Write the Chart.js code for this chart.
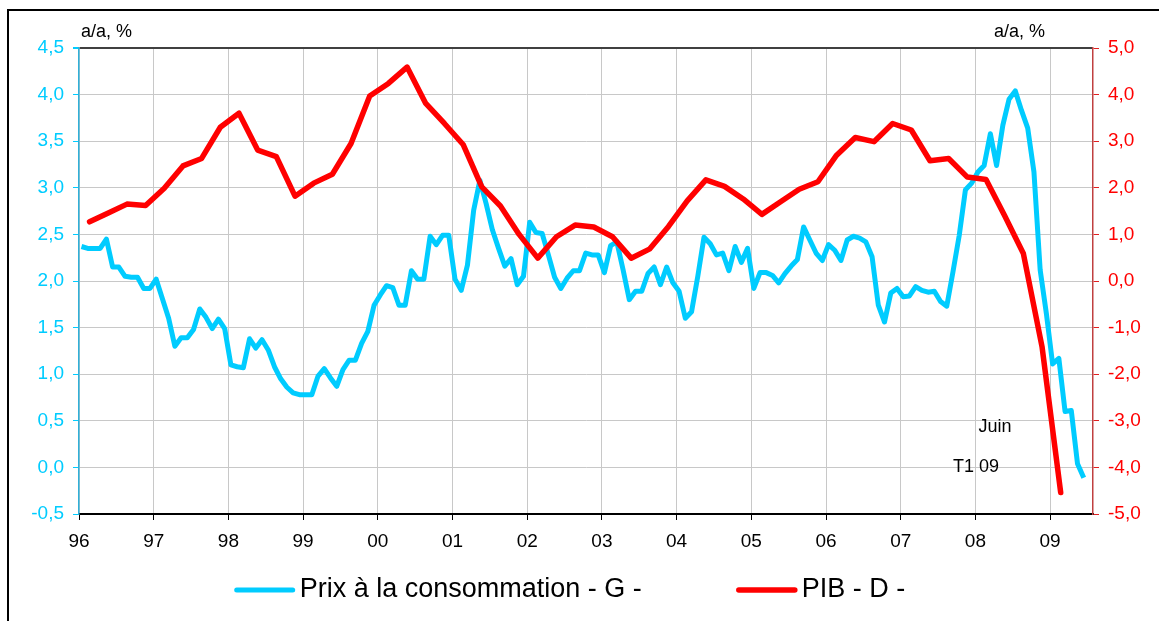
<!DOCTYPE html>
<html>
<head>
<meta charset="utf-8">
<script src="https://cdn.jsdelivr.net/npm/chart.js@4.4.1/dist/chart.umd.min.js"></script>
<style>
html, body { margin: 0; padding: 0; background: #fff; overflow: hidden; }
#wrap { position: relative; width: 1159px; height: 621px; }
#frame { position: absolute; left: 7px; top: 9px; width: 1200px; height: 700px; border: 2px solid #000; }
#chart { position: absolute; left: 0; top: 0; }
</style>
</head>
<body>
<div id="wrap">
  <div id="frame"></div>
  <canvas id="chart" width="1159" height="621"></canvas>
</div>
<script>
var font = "'Liberation Sans', Arial, sans-serif";

// x axis: one tick per year
var firstYear = 1996;
var yearTicks = [1996, 1997, 1998, 1999, 2000, 2001, 2002, 2003, 2004, 2005, 2006, 2007, 2008, 2009];
var yearLabels = ['96', '97', '98', '99', '00', '01', '02', '03', '04', '05', '06', '07', '08', '09'];

// prix a la consommation, a/a %, mensuel jan 96 -> juin 09 (axe gauche)
var cpiLabel = 'Prix à la consommation - G -';
var cpi = [
  2.37, 2.35, 2.35, 2.35, 2.45, 2.15, 2.15, 2.05, 2.04, 2.04, 1.92, 1.92,
  2.02, 1.81, 1.60, 1.30, 1.39, 1.39, 1.48, 1.70, 1.61, 1.49, 1.59, 1.49,
  1.10, 1.08, 1.07, 1.38, 1.28, 1.37, 1.26, 1.08, 0.95, 0.86, 0.80, 0.78,
  0.78, 0.78, 0.98, 1.06, 0.96, 0.87, 1.05, 1.15, 1.15, 1.33, 1.46, 1.74,
  1.85, 1.95, 1.93, 1.74, 1.74, 2.11, 2.02, 2.02, 2.48, 2.39, 2.49, 2.49,
  2.02, 1.90, 2.17, 2.76, 3.08, 2.83, 2.55, 2.35, 2.16, 2.24, 1.96, 2.05,
  2.63, 2.52, 2.51, 2.28, 2.04, 1.92, 2.03, 2.11, 2.11, 2.30, 2.28, 2.28,
  2.09, 2.38, 2.42, 2.12, 1.80, 1.89, 1.89, 2.08, 2.15, 1.96, 2.15, 1.98,
  1.89, 1.60, 1.67, 2.05, 2.47, 2.40, 2.28, 2.30, 2.11, 2.37, 2.20, 2.35,
  1.92, 2.09, 2.09, 2.06, 1.98, 2.08, 2.16, 2.23, 2.58, 2.44, 2.30, 2.22,
  2.39, 2.33, 2.22, 2.44, 2.48, 2.46, 2.42, 2.26, 1.74, 1.56, 1.87, 1.92,
  1.83, 1.84, 1.94, 1.90, 1.88, 1.89, 1.78, 1.73, 2.10, 2.49, 2.98, 3.05,
  3.17, 3.24, 3.58, 3.24, 3.67, 3.95, 4.04, 3.83, 3.64, 3.17, 2.12, 1.65,
  1.11, 1.17, 0.60, 0.61, 0.04, -0.11
];

// PIB, a/a %, trimestriel T1 96 -> T1 09 (axe droit)
var gdpLabel = 'PIB - D -';
var gdp = [
  1.27, 1.46, 1.65, 1.62,
  1.99, 2.47, 2.63, 3.30,
  3.60, 2.81, 2.67, 1.82,
  2.10, 2.29, 2.95, 3.97,
  4.24, 4.59, 3.81, 3.38,
  2.93, 2.02, 1.61, 1.00,
  0.49, 0.95, 1.20, 1.16,
  0.95, 0.49, 0.69, 1.17,
  1.72, 2.17, 2.03, 1.76,
  1.43, 1.70, 1.97, 2.13,
  2.70, 3.08, 2.99, 3.38,
  3.24, 2.58, 2.63, 2.23,
  2.18, 1.40, 0.59, -1.41,
  -4.54
];

// notes in the plot (x in years, y on left axis)
var notes = [
  { text: 'Juin', x: 2008.04, y: 0.43 },
  { text: 'T1 09', x: 2007.70, y: 0.0 }
];
var unitText = 'a/a, %';

// monthly points sit a bit inside their month, quarterly ones mid quarter
var cpiPoints = cpi.map(function (v, i) { return { x: firstYear + (i + 0.4) / 12, y: v }; });
var gdpPoints = gdp.map(function (v, q) { return { x: firstYear + (3 * q + 1.7) / 12, y: v }; });

function comma(v) { return v.toFixed(1).replace('.', ','); }

var textPlugin = {
  id: 'texts',
  afterDraw: function (chart) {
    var ctx = chart.ctx, a = chart.chartArea;
    var xs = chart.scales.x, ys = chart.scales.y;
    ctx.save();
    ctx.fillStyle = '#000';
    ctx.textBaseline = 'middle';
    ctx.font = '18px ' + font;
    ctx.textAlign = 'left';
    ctx.fillText(unitText, a.left + 2, 32);
    ctx.textAlign = 'right';
    ctx.fillText(unitText, a.right - 48, 32);
    ctx.textAlign = 'left';
    notes.forEach(function (n) {
      ctx.fillText(n.text, xs.getPixelForValue(n.x), ys.getPixelForValue(n.y));
    });

    // legend
    ctx.font = '27px ' + font;
    var sets = chart.data.datasets;
    var widths = sets.map(function (d) { return 56 + 7 + ctx.measureText(d.label).width; });
    var total = widths.reduce(function (s, w) { return s + w; }, 0) + 97 * (sets.length - 1);
    var x = 571 - total / 2, y = 590;
    sets.forEach(function (d, i) {
      ctx.strokeStyle = d.borderColor;
      ctx.lineWidth = d.borderWidth;
      ctx.lineCap = 'round';
      ctx.beginPath();
      ctx.moveTo(x, y);
      ctx.lineTo(x + 56, y);
      ctx.stroke();
      ctx.fillText(d.label, x + 63, y);
      x += widths[i] + 97;
    });
    ctx.restore();
  }
};

Chart.defaults.font.family = font;

new Chart(document.getElementById('chart').getContext('2d'), {
  type: 'line',
  data: {
    datasets: [{
      label: cpiLabel,
      data: cpiPoints,
      borderColor: '#00ccff',
      borderWidth: 5,
      pointRadius: 0,
      borderJoinStyle: 'round',
      yAxisID: 'y',
      order: 1
    }, {
      label: gdpLabel,
      data: gdpPoints,
      borderColor: '#ff0000',
      borderWidth: 5.5,
      pointRadius: 0,
      borderJoinStyle: 'round',
      borderCapStyle: 'round',
      yAxisID: 'y1',
      order: 0
    }]
  },
  options: {
    responsive: false,
    animation: false,
    layout: { padding: { top: 48, bottom: 57, left: 0, right: 0 } },
    plugins: { legend: { display: false }, tooltip: { enabled: false } },
    scales: {
      x: {
        type: 'linear',
        min: 1996,
        max: 2009.574,
        afterBuildTicks: function (s) { s.ticks = yearTicks.map(function (v) { return { value: v }; }); },
        afterFit: function (s) { s.height = 50; },
        ticks: {
          autoSkip: false, maxRotation: 0, color: '#000', padding: 10,
          font: { size: 19 },
          callback: function (v) { return yearLabels[yearTicks.indexOf(v)]; }
        },
        grid: { color: '#c8c8c8', tickColor: '#000', tickLength: 6 },
        border: { color: '#000', width: 2 }
      },
      y: {
        position: 'left',
        min: -0.5,
        max: 4.5,
        afterFit: function (s) { s.width = 79; },
        ticks: { stepSize: 0.5, color: '#00ccff', padding: 9, font: { size: 19 }, callback: comma },
        grid: {
          color: function (c) { return c.tick && c.tick.value === 4.5 ? '#404040' : '#c8c8c8'; },
          lineWidth: function (c) { return c.tick && c.tick.value === 4.5 ? 2 : 1; },
          tickColor: '#00ccff', tickLength: 6
        },
        border: { color: '#30b0d8', width: 1.5 }
      },
      y1: {
        position: 'right',
        min: -5,
        max: 5,
        afterFit: function (s) { s.width = 66; },
        ticks: { stepSize: 1, color: '#ff0000', padding: 9, font: { size: 19 }, callback: comma },
        grid: { drawOnChartArea: false, tickColor: '#e02020', tickLength: 6 },
        border: { color: '#c04040', width: 1.5 }
      }
    }
  },
  plugins: [textPlugin]
});
</script>
</body>
</html>
